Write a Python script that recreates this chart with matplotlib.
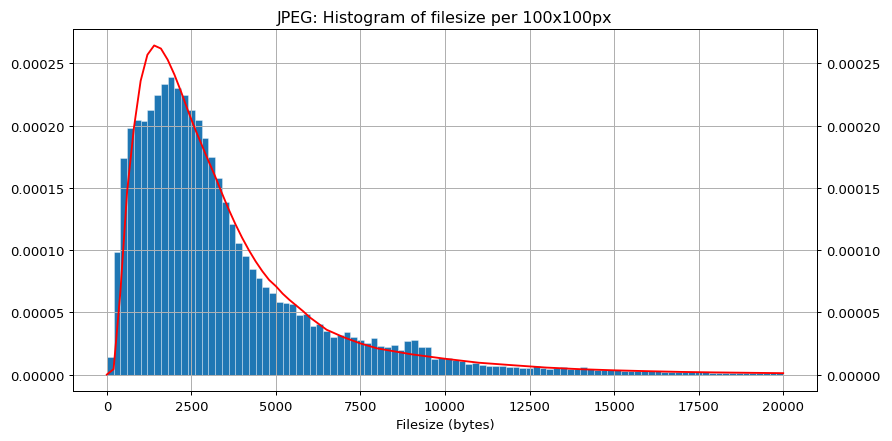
import numpy as np
import matplotlib
matplotlib.use('Agg')
import matplotlib.pyplot as plt

# histogram: 100 bins of 200 bytes from 0 to 20000 (density)
bin_edges = np.arange(0, 20001, 200)
density = [
    1.37e-5, 9.86e-5, 1.737e-4, 1.978e-4, 2.045e-4, 2.034e-4, 2.13e-4, 2.25e-4, 2.337e-4, 2.388e-4,
    2.302e-4, 2.246e-4, 2.125e-4, 2.047e-4, 1.90e-4, 1.75e-4, 1.58e-4, 1.39e-4, 1.21e-4, 1.056e-4,
    9.5e-5, 8.5e-5, 7.77e-5, 7.05e-5, 6.54e-5, 5.8e-5, 5.74e-5, 5.65e-5, 4.77e-5, 4.85e-5,
    3.88e-5, 4.07e-5, 3.54e-5, 3.03e-5, 3.16e-5, 3.4e-5, 3.03e-5, 2.81e-5, 2.55e-5, 2.9e-5,
    2.33e-5, 2.23e-5, 2.41e-5, 2.0e-5, 2.68e-5, 2.81e-5, 2.2e-5, 2.25e-5, 1.21e-5, 1.29e-5,
    1.34e-5, 1.15e-5, 1.05e-5, 8.5e-6, 9.0e-6, 7.5e-6, 6.7e-6, 7.2e-6, 6.6e-6, 6.2e-6,
    6.0e-6, 5.2e-6, 5.6e-6, 7.0e-6, 5.2e-6, 4.8e-6, 5.0e-6, 6.2e-6, 4.6e-6, 4.4e-6,
    6.2e-6, 4.3e-6, 3.9e-6, 3.8e-6, 3.6e-6, 3.5e-6, 3.2e-6, 3.0e-6, 2.9e-6, 2.7e-6,
    2.8e-6, 2.5e-6, 2.3e-6, 2.2e-6, 2.2e-6, 2.0e-6, 1.9e-6, 1.8e-6, 1.8e-6, 1.6e-6,
    1.5e-6, 1.5e-6, 1.4e-6, 1.3e-6, 1.2e-6, 1.2e-6, 1.1e-6, 1.05e-6, 1.0e-6, 0.95e-6,
]

# fitted curve (red)
fit_x = [0, 200, 400, 600, 800, 1000, 1200, 1400, 1600, 1800, 2000, 2200, 2400, 2600, 2800,
         3000, 3200, 3400, 3600, 3800, 4000, 4200, 4400, 4600, 4800, 5000, 5200, 5400, 5600,
         5800, 6000, 6500, 7000, 7500, 8000, 9000, 10000, 11000, 12000, 13000, 14000, 15000,
         16000, 17000, 18000, 19000, 20000]
fit_y = [0, 4.3e-6, 6.6e-5, 1.47e-4, 1.98e-4, 2.36e-4, 2.57e-4, 2.645e-4, 2.62e-4, 2.53e-4,
         2.41e-4, 2.27e-4, 2.12e-4, 1.98e-4, 1.85e-4, 1.72e-4, 1.595e-4, 1.46e-4, 1.33e-4,
         1.21e-4, 1.10e-4, 1.0e-4, 9.1e-5, 8.3e-5, 7.6e-5, 7.1e-5, 6.5e-5, 6.0e-5, 5.55e-5,
         5.1e-5, 4.6e-5, 3.6e-5, 3.0e-5, 2.5e-5, 2.1e-5, 1.63e-5, 1.27e-5, 9.5e-6, 7.5e-6,
         5.6e-6, 4.3e-6, 3.4e-6, 2.7e-6, 2.1e-6, 1.7e-6, 1.4e-6, 1.1e-6]

plt.rcParams['font.size'] = 10.6

fig = plt.figure(figsize=(10, 442 / 89.2), dpi=89.2)
ax = fig.add_axes([73 / 892, 1 - 392 / 442, (817 - 73) / 892, (392 - 30) / 442])

ax.bar(bin_edges[:-1], density, width=200, align='edge', color='#1f77b4',
       edgecolor=(1, 1, 1, 0.45), linewidth=0.6)
ax.grid(True)

ax2 = ax.twinx()
ax2.plot(fit_x, fit_y, color='red', linewidth=1.5)
ax.set_ylim(ax2.get_ylim())
ax.set_xticks(np.arange(0, 20001, 2500))

ax.set_title('JPEG: Histogram of filesize per 100x100px', fontsize=12.8)
ax.set_xlabel('Filesize (bytes)')

fig.savefig('out.png', dpi=89.2)
